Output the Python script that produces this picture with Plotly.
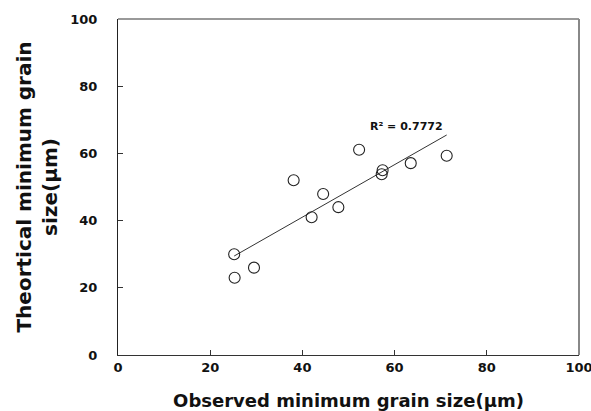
import numpy as np
import plotly.graph_objects as go

observed = [25.2, 25.3, 29.5, 38.1, 42.0, 44.5, 47.8, 52.3, 57.4, 57.2, 63.5, 71.3]
theoretical = [30.0, 23.0, 26.0, 52.0, 41.0, 47.9, 44.0, 61.1, 55.0, 53.8, 57.1, 59.3]
tick_vals = [0, 20, 40, 60, 80, 100]
r2_label = "R² = 0.7772"

x = np.array(observed)
y = np.array(theoretical)
slope, intercept = np.polyfit(x, y, 1)
line_x = [x.min(), x.max()]
line_y = [slope * v + intercept for v in line_x]

FONT = "DejaVu Sans"

ticktext = [f"<b>{v}</b>" for v in tick_vals]

fig = go.Figure()
fig.add_trace(go.Scatter(
    x=line_x, y=line_y, mode="lines",
    line=dict(color="#333333", width=1), showlegend=False, hoverinfo="skip"))
fig.add_trace(go.Scatter(
    x=observed, y=theoretical, mode="markers",
    marker=dict(symbol="circle-open", size=11, color="#222222", line=dict(width=1.1)),
    showlegend=False))

fig.add_annotation(x=62.6, y=67.9, text="<b>" + r2_label + "</b>", showarrow=False,
                   font=dict(family=FONT, size=11, color="#111111"))

fig.update_layout(
    width=591, height=411,
    margin=dict(l=118, r=12, t=19, b=56),
    paper_bgcolor="white", plot_bgcolor="white",
    font=dict(family=FONT, color="#111111"),
    xaxis=dict(
        range=[0, 100], tickvals=tick_vals, ticktext=ticktext,
        ticks="inside", ticklen=5, tickcolor="#333333",
        showgrid=False, zeroline=False, automargin=False,
        showline=True, linecolor="#333333", linewidth=1.2, mirror=False,
        tickfont=dict(family=FONT, size=13, color="#111111"),
        ticklabelstandoff=0, ticklabeloverflow="allow",
        title=dict(text="<b>Observed minimum grain size(μm)</b>",
                   font=dict(family=FONT, size=18, color="#111111"), standoff=23),
    ),
    yaxis=dict(
        range=[0, 100], tickvals=tick_vals, ticktext=ticktext,
        ticks="inside", ticklen=5, tickcolor="#333333",
        showgrid=False, zeroline=False, automargin=False,
        showline=True, linecolor="#222222", linewidth=1.2, mirror=False,
        tickfont=dict(family=FONT, size=13, color="#111111"),
        ticklabelstandoff=17, ticklabeloverflow="allow",
        title=dict(text="<b>Theortical minimum grain<br>size(μm)</b>",
                   font=dict(family=FONT, size=20, color="#111111"), standoff=7),
    ),
    shapes=[
        dict(type="line", xref="paper", yref="paper", x0=0, x1=1, y0=1, y1=1,
             line=dict(color="#777777", width=1.5)),
        dict(type="line", xref="paper", yref="paper", x0=1, x1=1, y0=0, y1=1,
             line=dict(color="#888888", width=2)),
    ],
)

fig.write_html("out.html", config={"displayModeBar": False},
               post_script="document.body.style.margin='0';document.body.style.overflow='hidden';")
